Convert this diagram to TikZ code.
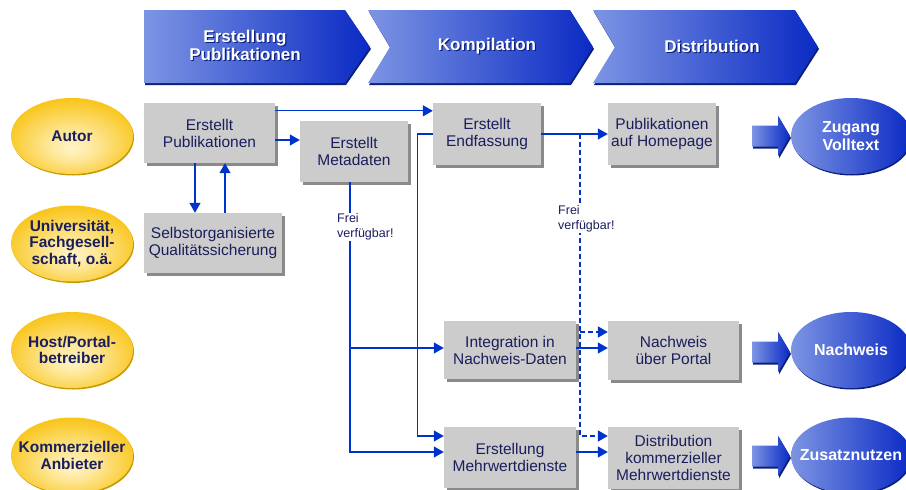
\documentclass[tikz,border=0pt]{standalone}
\usepackage{fontspec}
\setmainfont{Liberation Sans}
\usetikzlibrary{arrows.meta,shapes.geometric,shadows}

\definecolor{linkblue}{HTML}{0033CC}
\definecolor{boxgray}{HTML}{CCCCCC}
\definecolor{boxshade}{HTML}{8A8A8A}
\definecolor{navy}{HTML}{1A1E5C}
\definecolor{gold}{HTML}{F8BE00}
\definecolor{cream}{HTML}{FFF4C8}
\definecolor{golddark}{HTML}{C99A00}
\definecolor{bluelight}{HTML}{7D95E3}
\definecolor{bluedark}{HTML}{0A2AC4}
\definecolor{blueedge}{HTML}{0C1F7A}

\pgfdeclareradialshading{goldglow}{\pgfpoint{0bp}{-8bp}}{%
  color(0bp)=(cream); color(10bp)=(cream!75!gold); color(32bp)=(gold); color(50bp)=(gold)}

\newcommand{\shadowed}[1]{\rlap{\kern1.2pt\raisebox{-1.2pt}{\color{blueedge}#1}}#1}

\tikzset{
  box/.style={rectangle, fill=boxgray, text=navy, align=center, inner sep=0pt,
    font=\fontsize{15.5}{17}\selectfont,
    drop shadow={shadow xshift=2.5pt, shadow yshift=-2.5pt, fill=boxshade, opacity=1}},
  actor/.style={ellipse, minimum width=122pt, minimum height=76pt, inner xsep=-14pt, inner ysep=0pt,
    shading=goldglow, align=center, text=navy,
    font=\bfseries\fontsize{15.5}{16.5}\selectfont,
    drop shadow={shadow xshift=1pt, shadow yshift=-1.5pt, fill=golddark, opacity=1}},
  result/.style={ellipse, minimum width=120pt, minimum height=76pt, inner xsep=-14pt, inner ysep=0pt,
    left color=bluelight, right color=bluedark, align=center, text=white,
    font=\bfseries\fontsize{16}{18}\selectfont,
    drop shadow={shadow xshift=1pt, shadow yshift=-1.5pt, fill=blueedge, opacity=1}},
  phase/.style={left color=bluelight, right color=bluedark,
    drop shadow={shadow xshift=1pt, shadow yshift=-2pt, fill=blueedge, opacity=1}},
  phasetext/.style={text=white, align=center, font=\bfseries\fontsize{17}{18.5}\selectfont},
  conn/.style={linkblue, line width=1.3pt, -{Triangle[length=10pt,width=11pt]}},
  freeconn/.style={conn, line width=1.8pt, dash pattern=on 5pt off 3pt},
  note/.style={fill=white, text=navy, align=left, inner sep=1pt, anchor=west,
    font=\fontsize{12.5}{14.5}\selectfont},
}

\begin{document}
\begin{tikzpicture}[x=1pt, y=-1pt]
    \useasboundingbox (0,0) rectangle (906,490);

    % Phases on top
    \shade[phase] (144,10) -- (345,10) -- (370,47) -- (345,83) -- (144,83) -- cycle;
    \shade[phase] (368,10) -- (570,10) -- (593,47) -- (570,83) -- (368,83) -- (390,47) -- cycle;
    \shade[phase] (593,10) -- (795,10) -- (818,47) -- (795,83) -- (593,83) -- (615,47) -- cycle;
    \node[phasetext] (phcreate) at (245,46) {\shadowed{Erstellung}\\\shadowed{Publikationen}};
    \node[phasetext] (phcompile) at (487,47) {\shadowed{Kompilation}};
    \node[phasetext] (phdistrib) at (712,47) {\shadowed{Distribution}};

    % Actors
    \node[actor] (autor) at (72,136) {Autor};
    \node[actor] (uni) at (72,243.5) {Universität,\\Fachgesell-\\schaft, o.ä.};
    \node[actor] (host) at (72,350) {Host/Portal-\\betreiber};
    \node[actor] (komm) at (72,455.5) {Kommerzieller\\Anbieter};

    % Steps
    \node[box, minimum width=131pt, minimum height=60pt] (pub) at (209.5,133) {Erstellt\\Publikationen};
    \node[box, minimum width=108pt, minimum height=61pt] (meta) at (354,151.5) {Erstellt\\Metadaten};
    \node[box, minimum width=138pt, minimum height=60pt] (qs) at (213,243) {Selbstorganisierte\\Qualitätssicherung};
    \node[box, minimum width=108pt, minimum height=62pt] (endf) at (487,134) {Erstellt\\Endfassung};
    \node[box, minimum width=108pt, minimum height=62pt] (home) at (662,134) {Publikationen\\auf Homepage};
    \node[box, minimum width=132pt, minimum height=58pt] (integ) at (510,350) {Integration in\\Nachweis-Daten};
    \node[box, minimum width=131pt, minimum height=59pt] (portal) at (673.5,350.5) {Nachweis\\über Portal};
    \node[box, minimum width=132pt, minimum height=61pt] (mwd) at (510,457.5) {Erstellung\\Mehrwertdienste};
    \node[box, minimum width=131pt, minimum height=62pt] (distr) at (673.5,458) {Distribution\\kommerzieller\\Mehrwertdienste};

    % Results
    \node[result] (zugang) at (851,136) {Zugang\\Volltext};
    \node[result] (nachweis) at (851,350) {Nachweis};
    \node[result] (zusatz) at (851,455.5) {Zusatznutzen};

    % Block arrows towards the results
    \foreach \yy in {136,352,456}
        \shade[phase] (752,{\yy-10.5}) -- (778,{\yy-10.5}) -- (778,{\yy-20.5}) -- (790,\yy)
            -- (778,{\yy+20.5}) -- (778,{\yy+10.5}) -- (752,{\yy+10.5}) -- cycle;

    % Branch points
    \coordinate (metasplit) at (meta.south -| 350,0);
    \coordinate (freesplit) at (endf.east -| 580,0);

    % Connectors
    \draw[conn] ([yshift=-8pt]pub.north east) -- ([yshift=-8pt]endf.north west);
    \draw[conn] (pub.east |- 0,140) -- (meta.west |- 0,140);
    \draw[conn] (pub.south -| 195,0) -- (qs.north -| 195,0);
    \draw[conn] (qs.north -| 225,0) -- (pub.south -| 225,0);
    \draw[conn] (metasplit) |- ([yshift=5.5pt]mwd.west);
    \draw[conn] (metasplit |- 0,348) -- (integ.west |- 0,348);
    \draw[conn] (endf.west) -- ++(-15,0) |- ([yshift=21.5pt]mwd.west);
    \draw[conn] (endf.east) -- (home.west);
    \draw[conn] (integ.east |- 0,348) -- (portal.west |- 0,348);
    \draw[conn] ([yshift=5.5pt]mwd.east) -- ([yshift=5.5pt]mwd.east -| distr.west);
    \draw[freeconn] (freesplit) |- ([yshift=22pt]distr.west);
    \draw[freeconn] (freesplit |- 0,332) -- (portal.west |- 0,332);

    % Labels on the lines
    \node[note] (free1) at (336,227) {Frei\\verfügbar!};
    \node[note] (free2) at (557,219) {Frei\\verfügbar!};
\end{tikzpicture}
\end{document}
